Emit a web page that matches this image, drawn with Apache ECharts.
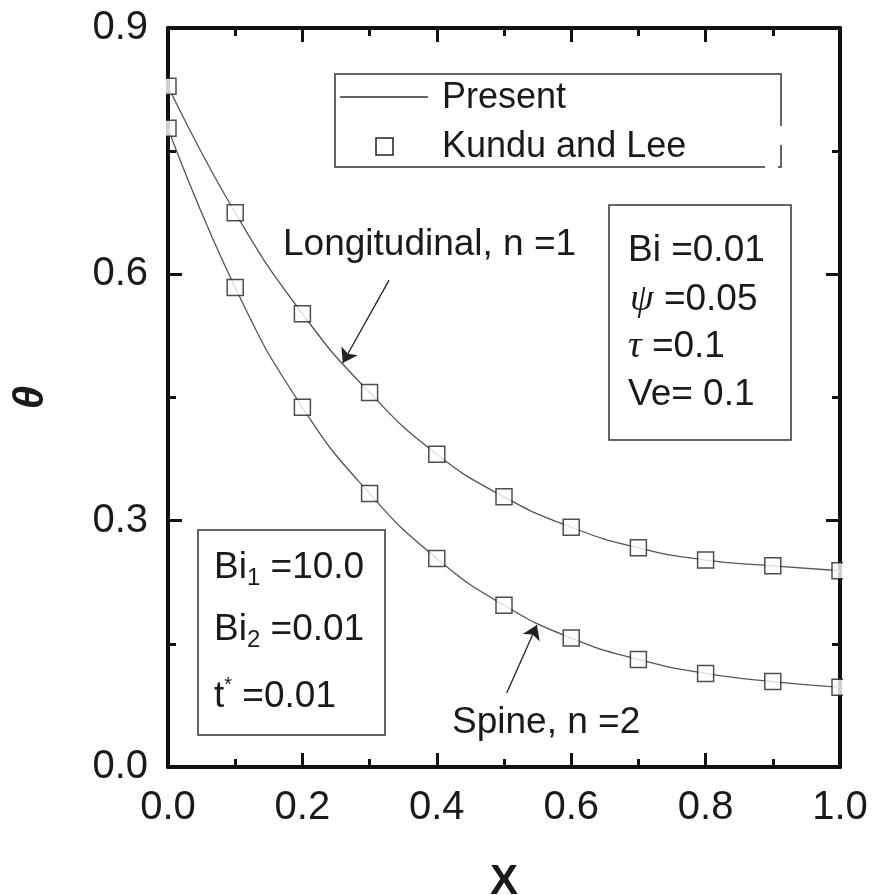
<!DOCTYPE html>
<html>
<head>
<meta charset="utf-8">
<script src="https://cdn.jsdelivr.net/npm/echarts@6/dist/echarts.min.js"></script>
<style>
html,body{margin:0;padding:0;background:#fff;}
#chart{width:872px;height:895px;}
</style>
</head>
<body>
<div id="chart"></div>
<script>
// ---- data ----
const xValues = [0.0, 0.1, 0.2, 0.3, 0.4, 0.5, 0.6, 0.7, 0.8, 0.9, 1.0];
const longitudinal = [0.829, 0.675, 0.552, 0.456, 0.381, 0.329, 0.292, 0.267, 0.252, 0.245, 0.239];
const spine = [0.778, 0.584, 0.438, 0.333, 0.254, 0.197, 0.157, 0.131, 0.114, 0.104, 0.097];
const xTicks = [0.0, 0.2, 0.4, 0.6, 0.8, 1.0];
const yTicks = [0.0, 0.3, 0.6, 0.9];
const legendNames = ['Present', 'Kundu and Lee'];
const arrowLongitudinal = [[0.329, 0.593], [0.260, 0.492]];
const arrowSpine = [[0.504, 0.090], [0.549, 0.173]];

const FONT = '"Liberation Sans", Arial, Helvetica, sans-serif';
const SERIF = '"Liberation Serif", "Times New Roman", serif';

function pairs(xs, ys) { return xs.map((x, i) => [x, ys[i]]); }

const chart = echarts.init(document.getElementById('chart'), null, {renderer: 'canvas'});

const axisCommon = {
  type: 'value',
  axisLine: {show: true, onZero: false, lineStyle: {color: '#111', width: 4}},
  axisTick: {show: true, inside: true, length: 14, lineStyle: {color: '#111', width: 3}},
  minorTick: {show: true, splitNumber: 2, length: 8, lineStyle: {color: '#111', width: 3}},
  splitLine: {show: false},
  minorSplitLine: {show: false}
};

const arrowLine = {
  silent: true,
  symbol: ['none', 'arrow'],
  symbolSize: 14,
  label: {show: false},
  lineStyle: {color: '#222', width: 1.3, type: 'solid'},
  emphasis: {disabled: true},
  animation: false
};

const option = {
  animation: false,
  backgroundColor: '#ffffff',
  grid: {left: 168, right: 32, top: 28, bottom: 128, containLabel: false, outerBoundsMode: 'none'},
  xAxis: [
    Object.assign({}, axisCommon, {
      position: 'bottom', min: 0, max: 1, interval: 0.2,
      axisLabel: {show: true, fontSize: 40, fontFamily: FONT, color: '#1a1a1a', margin: 21,
        formatter: v => (xTicks.some(t => Math.abs(t - v) < 1e-9) ? v.toFixed(1) : '')},
      name: 'X', nameLocation: 'middle', nameGap: 94,
      nameTextStyle: {fontSize: 42, fontWeight: 'bold', fontFamily: FONT, color: '#1a1a1a'}
    }),
    Object.assign({}, axisCommon, {
      position: 'top', min: 0, max: 1, interval: 0.2,
      axisLabel: {show: false}
    })
  ],
  yAxis: [
    Object.assign({}, axisCommon, {
      position: 'left', min: 0, max: 0.9, interval: 0.3,
      axisLabel: {show: true, fontSize: 40, fontFamily: FONT, color: '#1a1a1a', margin: 20,
        formatter: v => (yTicks.some(t => Math.abs(t - v) < 1e-9) ? v.toFixed(1) : '')},
      name: 'θ', nameLocation: 'middle', nameGap: 116, nameRotate: 90,
      nameTextStyle: {fontSize: 42, fontWeight: 'bold', fontStyle: 'italic', fontFamily: FONT, color: '#1a1a1a'}
    }),
    Object.assign({}, axisCommon, {
      position: 'right', min: 0, max: 0.9, interval: 0.3,
      axisLabel: {show: false}
    })
  ],
  series: [
    {
      name: legendNames[0], type: 'line', smooth: true, symbol: 'none',
      data: pairs(xValues, longitudinal),
      lineStyle: {color: '#555', width: 1.3}, z: 2,
      markLine: Object.assign({}, arrowLine, {
        data: [[{coord: arrowLongitudinal[0]}, {coord: arrowLongitudinal[1]}]]
      })
    },
    {
      name: legendNames[0], type: 'line', smooth: true, symbol: 'none',
      data: pairs(xValues, spine),
      lineStyle: {color: '#555', width: 1.3}, z: 2,
      markLine: Object.assign({}, arrowLine, {
        data: [[{coord: arrowSpine[0]}, {coord: arrowSpine[1]}]]
      })
    },
    {
      name: legendNames[1], type: 'scatter', symbol: 'rect', symbolSize: 16,
      data: pairs(xValues, longitudinal),
      itemStyle: {color: '#fff', borderColor: '#222', borderWidth: 1.5}, z: 3
    },
    {
      name: legendNames[1], type: 'scatter', symbol: 'rect', symbolSize: 16,
      data: pairs(xValues, spine),
      itemStyle: {color: '#fff', borderColor: '#222', borderWidth: 1.5}, z: 3
    }
  ],
  graphic: [
    // white masks outside the frame (markers clipped by axes)
    {type: 'rect', z: 100, silent: true, shape: {x: 152, y: 40, width: 14, height: 720}, style: {fill: '#fff'}},
    {type: 'rect', z: 100, silent: true, shape: {x: 843, y: 40, width: 20, height: 720}, style: {fill: '#fff'}},
    // legend box
    {type: 'rect', z: 50, silent: true, shape: {x: 335, y: 74, width: 446, height: 93},
      style: {fill: 'none', stroke: '#333', lineWidth: 1.5}},
    {type: 'rect', z: 51, silent: true, shape: {x: 776, y: 126, width: 10, height: 19}, style: {fill: '#fff'}},
    {type: 'rect', z: 51, silent: true, shape: {x: 765, y: 163, width: 13, height: 8}, style: {fill: '#fff'}},
    {type: 'line', z: 50, silent: true, shape: {x1: 340, y1: 97, x2: 428, y2: 97},
      style: {stroke: '#333', lineWidth: 1.3}},
    {type: 'rect', z: 50, silent: true, shape: {x: 376, y: 138, width: 17, height: 17},
      style: {fill: '#fff', stroke: '#222', lineWidth: 1.5}},
    {type: 'text', z: 50, silent: true, x: 442, y: 98,
      style: {text: legendNames[0], font: '36px ' + FONT, fill: '#1a1a1a', verticalAlign: 'middle'}},
    {type: 'text', z: 50, silent: true, x: 442, y: 147,
      style: {text: legendNames[1], font: '36px ' + FONT, fill: '#1a1a1a', verticalAlign: 'middle'}},
    // right parameter box
    {type: 'rect', z: 50, silent: true, shape: {x: 609, y: 205, width: 182, height: 235},
      style: {fill: 'none', stroke: '#333', lineWidth: 1.5}},
    {type: 'text', z: 50, silent: true, x: 628, y: 251,
      style: {text: 'Bi =0.01', font: '37px ' + FONT, fill: '#1a1a1a', verticalAlign: 'middle'}},
    {type: 'text', z: 50, silent: true, x: 630, y: 300,
      style: {text: '{g|ψ} =0.05', font: '37px ' + FONT, fill: '#1a1a1a', verticalAlign: 'middle',
        rich: {g: {fontFamily: SERIF, fontStyle: 'italic', fontSize: 38}}}},
    {type: 'text', z: 50, silent: true, x: 628, y: 347,
      style: {text: '{g|τ} =0.1', font: '37px ' + FONT, fill: '#1a1a1a', verticalAlign: 'middle',
        rich: {g: {fontFamily: SERIF, fontStyle: 'italic', fontSize: 38}}}},
    {type: 'text', z: 50, silent: true, x: 628, y: 395,
      style: {text: 'Ve= 0.1', font: '37px ' + FONT, fill: '#1a1a1a', verticalAlign: 'middle'}},
    // left parameter box
    {type: 'rect', z: 50, silent: true, shape: {x: 198, y: 530, width: 187, height: 205},
      style: {fill: 'none', stroke: '#333', lineWidth: 1.5}},
    {type: 'text', z: 50, silent: true, x: 214, y: 568,
      style: {text: '{m|Bi}{s|1}{m| =10.0}', fill: '#1a1a1a', verticalAlign: 'middle',
        rich: {m: {fontSize: 37, fontFamily: FONT, lineHeight: 44},
               s: {fontSize: 24, fontFamily: FONT, lineHeight: 24, verticalAlign: 'bottom'}}}},
    {type: 'text', z: 50, silent: true, x: 214, y: 630,
      style: {text: '{m|Bi}{s|2}{m| =0.01}', fill: '#1a1a1a', verticalAlign: 'middle',
        rich: {m: {fontSize: 37, fontFamily: FONT, lineHeight: 44},
               s: {fontSize: 24, fontFamily: FONT, lineHeight: 24, verticalAlign: 'bottom'}}}},
    {type: 'text', z: 50, silent: true, x: 214, y: 697,
      style: {text: '{m|t}{s|*}{m| =0.01}', fill: '#1a1a1a', verticalAlign: 'middle',
        rich: {m: {fontSize: 37, fontFamily: FONT, lineHeight: 44},
               s: {fontSize: 20, fontFamily: FONT, lineHeight: 20, verticalAlign: 'top'}}}},
    // curve labels
    {type: 'text', z: 50, silent: true, x: 283, y: 245,
      style: {text: 'Longitudinal, n =1', font: '37px ' + FONT, fill: '#1a1a1a', verticalAlign: 'middle'}},
    {type: 'text', z: 50, silent: true, x: 452, y: 723,
      style: {text: 'Spine, n =2', font: '37px ' + FONT, fill: '#1a1a1a', verticalAlign: 'middle'}}
  ]
};

chart.setOption(option);
</script>
</body>
</html>
